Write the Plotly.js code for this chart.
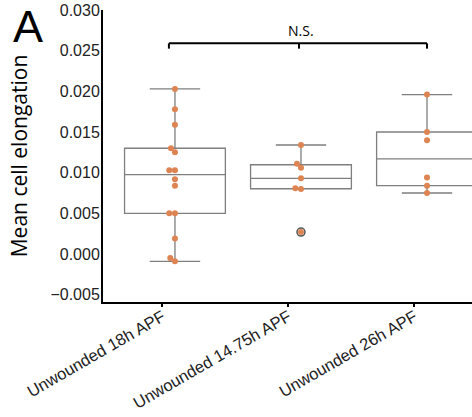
<!DOCTYPE html>
<html>
<head>
<meta charset="utf-8">
<script src="https://cdn.plot.ly/plotly-3.0.1.min.js"></script>
<style>html,body{margin:0;padding:0;background:#fff;}#chart{width:472px;height:417px;}</style>
</head>
<body>
<div id="chart"></div>
<script>
// ---- data ----
const categories = ["Unwounded 18h APF", "Unwounded 14.75h APF", "Unwounded 26h APF"];
const elong18h = [0.0203, 0.0178, 0.0159, 0.0130, 0.0125, 0.0103, 0.0103, 0.0092, 0.0084, 0.0050, 0.0050, 0.0019, -0.0005, -0.0009];
const elong1475h = [0.0134, 0.0111, 0.0106, 0.0093, 0.0081, 0.0080, 0.0027];
const elong26h = [0.0196, 0.0150, 0.0140, 0.0094, 0.0084, 0.0075];
const yTickVals = [-0.005, 0.000, 0.005, 0.010, 0.015, 0.020, 0.025, 0.030];
const significanceLabel = "N.S.";
const panelLabel = "A";

const groups = [elong18h, elong1475h, elong26h];

// ---- style ----
const ORANGE = "#dd8452";
const BOXLINE = "#7f7f7f";
const W = 472, H = 417;
const margin = {l: 103, r: 0, t: 10, b: 115};
const yRange = [-0.0059, 0.0300];
const xRange = [-0.571, 2.357];
const plotW = W - margin.l - margin.r, plotH = H - margin.t - margin.b;
const pxPerX = plotW / (xRange[1] - xRange[0]);
const pxPerY = plotH / (yRange[1] - yRange[0]);
const DIAM = 5.7;

// simple beeswarm: ascending order, shift left when overlapping
function swarmOffsets(vals) {
  const idx = vals.map((v, i) => i).sort((a, b) => vals[a] - vals[b]);
  const placed = [];
  const off = new Array(vals.length).fill(0);
  idx.forEach(i => {
    const yp = vals[i] * pxPerY;
    const cands = [0];
    placed.forEach(q => {
      const dy = Math.abs(q.y - yp);
      if (dy < DIAM) {
        const dx = Math.sqrt(DIAM * DIAM - dy * dy);
        cands.push(q.x - dx, q.x + dx);
      }
    });
    const ok = c => placed.every(q => Math.hypot(q.x - c, q.y - yp) >= DIAM - 1e-6);
    cands.sort((a, b) => (Math.abs(a) - Math.abs(b)) || (a - b));
    const x = cands.find(ok);
    placed.push({x: x, y: yp});
    off[i] = x / pxPerX;
  });
  return off;
}

const traces = [];
groups.forEach((vals, i) => {
  traces.push({
    type: "box", y: vals, x0: i, width: 0.8, whiskerwidth: 0.5,
    quartilemethod: "linear", boxpoints: "outliers",
    line: {color: BOXLINE, width: 1.3}, fillcolor: "rgba(255,255,255,0)",
    marker: {color: "rgba(0,0,0,0)", size: 8, line: {color: "#555555", width: 1.5}},
    showlegend: false, hoverinfo: "skip"
  });
});
groups.forEach((vals, i) => {
  const offs = swarmOffsets(vals);
  traces.push({
    type: "scatter", mode: "markers",
    x: vals.map((v, k) => i + offs[k]), y: vals,
    marker: {color: ORANGE, size: 6, line: {width: 0}},
    showlegend: false, hoverinfo: "skip"
  });
});

// significance bracket
const bx = [-0.048, 0.984, 2.0], by = 0.0259, btick = 0.02525;
const shapes = [
  {type: "line", xref: "x", yref: "y", x0: bx[0], x1: bx[2], y0: by, y1: by, line: {color: "#000", width: 2}},
  {type: "line", xref: "x", yref: "y", x0: bx[0], x1: bx[0], y0: by, y1: btick, line: {color: "#000", width: 2}},
  {type: "line", xref: "x", yref: "y", x0: bx[1], x1: bx[1], y0: by, y1: btick, line: {color: "#000", width: 2}},
  {type: "line", xref: "x", yref: "y", x0: bx[2], x1: bx[2], y0: by, y1: btick, line: {color: "#000", width: 2}}
];

const layout = {
  width: W, height: H, margin: margin,
  paper_bgcolor: "#fff", plot_bgcolor: "#fff",
  showlegend: false,
  xaxis: {
    range: xRange, tickmode: "array",
    tickvals: categories.map((c, i) => i - 0.1), ticktext: categories,
    tickangle: -30, ticks: "outside", ticklen: 3, tickwidth: 2, tickcolor: "#000",
    ticklabelstandoff: -6,
    showline: true, linecolor: "#000", linewidth: 2, showgrid: false, zeroline: false,
    tickfont: {family: "Liberation Sans, Arial, sans-serif", size: 16.5, color: "#222"}
  },
  yaxis: {
    range: yRange, tickmode: "array", tickvals: yTickVals, tickformat: ".3f",
    ticks: "", ticklabelstandoff: -2,
    showline: true, linecolor: "#000", linewidth: 2, showgrid: false, zeroline: false,
    tickfont: {family: "Liberation Sans, Arial, sans-serif", size: 16, color: "#222"},
    title: {text: "Mean cell elongation", font: {family: "Open Sans, sans-serif", size: 21, color: "#000"}, standoff: 17}
  },
  shapes: shapes,
  annotations: [
    {text: significanceLabel, xref: "x", yref: "y", x: bx[1] + 0.02, y: 0.0275, showarrow: false,
     xanchor: "center", yanchor: "middle", font: {family: "Open Sans, sans-serif", size: 14, color: "#000"}},
    {text: panelLabel, xref: "paper", yref: "paper", x: (27.5 - margin.l) / plotW, y: (H - margin.b - margin.t + 10) / plotH,
     showarrow: false, xanchor: "center", yanchor: "top", borderpad: 0,
     font: {family: "Liberation Sans, Arial, sans-serif", size: 45, color: "#000"}}
  ]
};

Plotly.newPlot("chart", traces, layout, {staticPlot: true, displayModeBar: false});
</script>
</body>
</html>
